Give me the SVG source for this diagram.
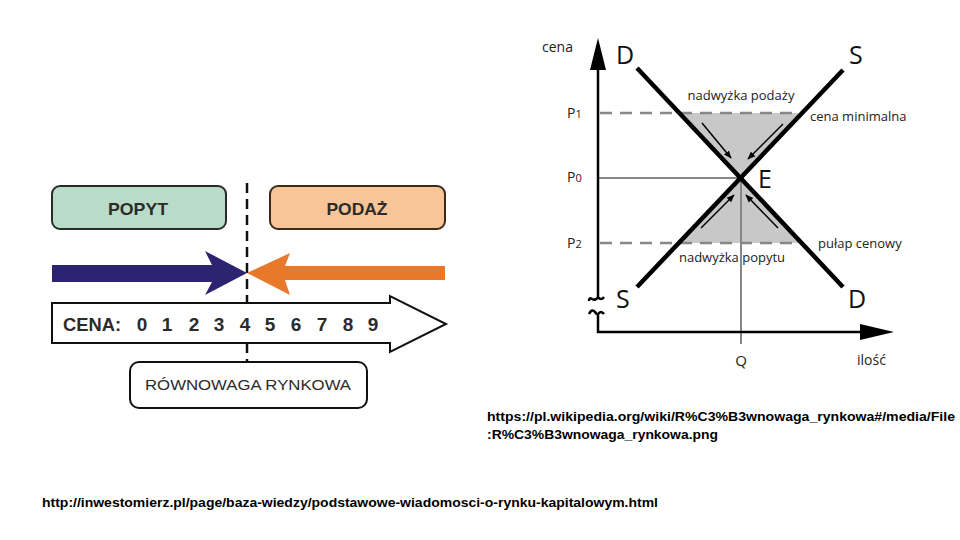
<svg xmlns="http://www.w3.org/2000/svg" width="960" height="540" viewBox="0 0 960 540">
<style>
.lbl{font-family:"Liberation Sans",Arial,sans-serif;font-weight:bold;fill:#2b2b2b}
.ax{font-family:"Open Sans","DejaVu Sans",sans-serif;fill:#222}
.big{font-family:"Open Sans","DejaVu Sans",sans-serif;fill:#111;font-size:25px}
.url{font-family:"Liberation Sans",Arial,sans-serif;font-weight:bold;font-size:13px;fill:#000}
.curve{stroke:#000;stroke-width:4.5;fill:none;stroke-linecap:butt}
.gl{stroke:#888;stroke-width:2;fill:none}
.dash{stroke:#888;stroke-width:2.5;stroke-dasharray:12,8;fill:none}
.sm{stroke:#000;stroke-width:1.5;fill:none}
</style>
<defs>
<marker id="ah" viewBox="0 0 10 10" refX="9" refY="5" markerWidth="8" markerHeight="8" markerUnits="userSpaceOnUse" orient="auto">
<path d="M0,1 L10,5 L0,9 Z" fill="#000"/>
</marker>
</defs>
<rect width="960" height="540" fill="#fff"/>

<!-- left diagram -->
<g id="popyt">
<rect x="52" y="186" width="174" height="43" rx="8" fill="#b9dcc9" stroke="#2a2a2a" stroke-width="2"/>
<text class="lbl" x="138" y="215" font-size="17" text-anchor="middle" textLength="60" lengthAdjust="spacingAndGlyphs">POPYT</text>
</g>
<g id="podaz">
<rect x="270" y="186" width="175" height="43" rx="8" fill="#f7c597" stroke="#3a2a1a" stroke-width="2"/>
<text class="lbl" x="357" y="215" font-size="17" text-anchor="middle" textLength="61" lengthAdjust="spacingAndGlyphs">PODAŻ</text>
</g>
<g id="connectors-left">
<line x1="247" y1="183" x2="247" y2="372" stroke="#111" stroke-width="2.5" stroke-dasharray="10,6"/>
<path d="M52,265 H212 L205,251 L247,273 L205,295 L212,282 H52 Z" fill="#2e2370"/>
<path d="M445,266 H285 L290,253 L247,273 L290,295 L285,280 H445 Z" fill="#e8792b"/>
</g>
<g id="cena-arrow">
<path d="M52,303 H390 V296 L446,324 L390,352 V343 H52 Z" fill="#fff" stroke="#111" stroke-width="2"/>
<text class="lbl" x="63" y="331" font-size="19" textLength="58" lengthAdjust="spacingAndGlyphs">CENA:</text>
<g class="lbl" font-size="19" text-anchor="middle">
<text x="142" y="331">0</text>
<text x="167" y="331">1</text>
<text x="194" y="331">2</text>
<text x="219" y="331">3</text>
<text x="245" y="331">4</text>
<text x="270" y="331">5</text>
<text x="296" y="331">6</text>
<text x="322" y="331">7</text>
<text x="348" y="331">8</text>
<text x="373" y="331">9</text>
</g>
</g>
<g id="rownowaga">
<rect x="130" y="362" width="237" height="46" rx="9" fill="#fff" stroke="#111" stroke-width="2"/>
<text class="lbl" x="248" y="390" font-size="15" text-anchor="middle" textLength="206" lengthAdjust="spacingAndGlyphs" style="font-weight:normal">RÓWNOWAGA RYNKOWA</text>
</g>

<!-- right diagram -->
<g id="shading">
<path d="M679,113 L799,113 L741,178 Z" fill="#c8c8c8"/>
<path d="M680,243 L802,243 L741,178 Z" fill="#c8c8c8"/>
</g>
<g id="guides">
<line class="dash" x1="600" y1="113" x2="800" y2="113"/>
<line class="dash" x1="600" y1="243" x2="802" y2="243"/>
<line class="gl" x1="598" y1="178" x2="741" y2="178"/>
<line class="gl" x1="741" y1="178" x2="741" y2="344"/>
</g>
<g id="axes">
<path d="M598,68 V297 q-2,4 -6,2 q-3,-2 -3,2 M598,297 q3,4 6,0" stroke="#000" stroke-width="2.5" fill="none"/>
<path d="M589,314 q3,-6 6,-2 q2,3 3,2 q3,-4 6,0 M598,313 V332 H862" stroke="#000" stroke-width="2.5" fill="none"/>
<path d="M598,38 L606,70 L590,70 Z" fill="#000"/>
<path d="M894,332 L860,324 L860,340 Z" fill="#000"/>
</g>
<g id="curves">
<line class="curve" x1="637" y1="68" x2="843" y2="287"/>
<line class="curve" x1="843" y1="70" x2="637" y2="287"/>
</g>
<g id="small-arrows">
<line class="sm" x1="702" y1="123" x2="731" y2="158" marker-end="url(#ah)"/>
<line class="sm" x1="783" y1="124" x2="748" y2="159" marker-end="url(#ah)"/>
<line class="sm" x1="701" y1="228" x2="734" y2="195" marker-end="url(#ah)"/>
<line class="sm" x1="778" y1="228" x2="746" y2="195" marker-end="url(#ah)"/>
</g>
<g id="labels-right">
<text class="ax" x="542" y="52" font-size="14">cena</text>
<text class="big" x="616" y="64">D</text>
<text class="big" x="849" y="64">S</text>
<text class="ax" x="741" y="100" font-size="13" text-anchor="middle">nadwyżka podaży</text>
<text class="ax" x="810" y="121" font-size="13">cena minimalna</text>
<text class="ax" x="567" y="118" font-size="14">P<tspan font-size="11">1</tspan></text>
<text class="ax" x="567" y="182" font-size="14">P<tspan font-size="11">0</tspan></text>
<text class="ax" x="567" y="248" font-size="14">P<tspan font-size="11">2</tspan></text>
<text class="big" x="758" y="188">E</text>
<text class="ax" x="818" y="248" font-size="13">pułap cenowy</text>
<text class="ax" x="732" y="262" font-size="13" text-anchor="middle">nadwyżka popytu</text>
<text class="big" x="616" y="308">S</text>
<text class="big" x="848" y="308">D</text>
<text class="ax" x="741" y="366" font-size="15" text-anchor="middle">Q</text>
<text class="ax" x="857" y="365" font-size="14">ilość</text>
</g>

<!-- sources -->
<g id="sources">
<text class="url" x="487" y="421" textLength="468" lengthAdjust="spacingAndGlyphs">https://pl.wikipedia.org/wiki/R%C3%B3wnowaga_rynkowa#/media/File</text>
<text class="url" x="487" y="439" textLength="231" lengthAdjust="spacingAndGlyphs">:R%C3%B3wnowaga_rynkowa.png</text>
<text class="url" x="42" y="507" textLength="616" lengthAdjust="spacingAndGlyphs">http://inwestomierz.pl/page/baza-wiedzy/podstawowe-wiadomosci-o-rynku-kapitalowym.html</text>
</g>
</svg>
